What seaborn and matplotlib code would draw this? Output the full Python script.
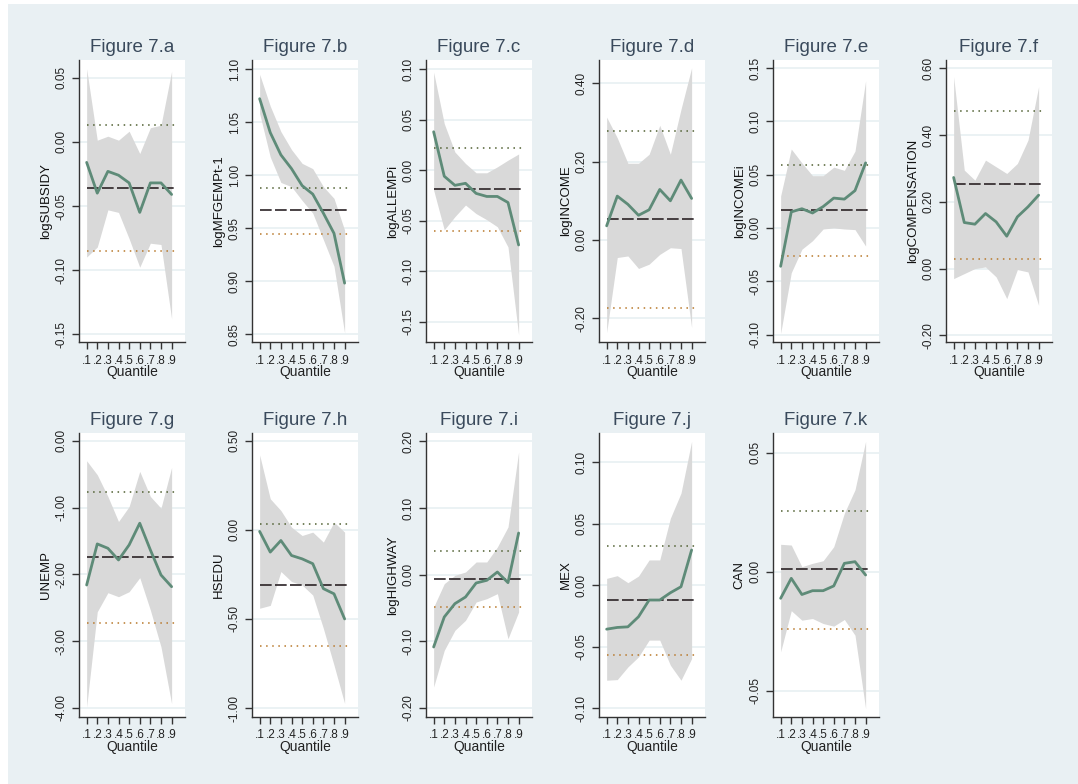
import numpy as np
import pandas as pd
import matplotlib
matplotlib.use("Agg")
import matplotlib.pyplot as plt
import seaborn as sns

sns.set_theme(style="white")
plt.rcParams['font.family'] = ['Liberation Sans', 'DejaVu Sans']

# ---------------- data ----------------
quantiles = [0.1, 0.2, 0.3, 0.4, 0.5, 0.6, 0.7, 0.8, 0.9]
xtick_labels = [".1", ".2", ".3", ".4", ".5", ".6", ".7", ".8", ".9"]

titles = ["Figure 7.a", "Figure 7.b", "Figure 7.c", "Figure 7.d", "Figure 7.e", "Figure 7.f",
          "Figure 7.g", "Figure 7.h", "Figure 7.i", "Figure 7.j", "Figure 7.k"]
ylabels = ["logSUBSIDY", "logMFGEMPt-1", "logALLEMPi", "logINCOME", "logINCOMEi", "logCOMPENSATION",
           "UNEMP", "HSEDU", "logHIGHWAY", "MEX", "CAN"]

# quantile estimates
a_coef = [-0.016, -0.040, -0.023, -0.026, -0.032, -0.055, -0.032, -0.032, -0.041]
b_coef = [1.072, 1.040, 1.019, 1.006, 0.990, 0.982, 0.964, 0.945, 0.898]
c_coef = [0.038, -0.006, -0.015, -0.013, -0.023, -0.026, -0.026, -0.032, -0.074]
d_coef = [0.036, 0.112, 0.091, 0.063, 0.077, 0.129, 0.100, 0.153, 0.106]
e_coef = [-0.036, 0.015, 0.018, 0.014, 0.020, 0.028, 0.027, 0.035, 0.061]
f_coef = [0.273, 0.138, 0.133, 0.165, 0.140, 0.097, 0.155, 0.185, 0.220]
g_coef = [-2.16, -1.545, -1.61, -1.785, -1.56, -1.235, -1.635, -2.01, -2.185]
h_coef = [-0.009, -0.125, -0.060, -0.144, -0.163, -0.190, -0.330, -0.359, -0.500]
i_coef = [-0.1085, -0.0635, -0.0435, -0.0335, -0.0125, -0.0085, 0.004, -0.012, 0.0625]
j_coef = [-0.0359, -0.0345, -0.034, -0.0258, -0.0122, -0.0122, -0.0063, -0.0014, 0.0285]
k_coef = [-0.0112, -0.0028, -0.0096, -0.008, -0.008, -0.006, 0.0035, 0.0042, -0.0014]

# upper confidence band
a_hi = [0.057, 0.0013, 0.0044, 0.0013, 0.0083, -0.0091, 0.011, 0.013, 0.055]
b_hi = [1.095, 1.065, 1.041, 1.024, 1.011, 1.006, 0.989, 0.978, 0.948]
c_hi = [0.097, 0.046, 0.018, 0.0066, -0.0026, -0.0026, 0.0033, 0.0099, 0.016]
d_hi = [0.314, 0.261, 0.196, 0.196, 0.219, 0.293, 0.219, 0.334, 0.440]
e_hi = [0.030, 0.074, 0.061, 0.049, 0.049, 0.057, 0.054, 0.072, 0.138]
f_hi = [0.575, 0.295, 0.265, 0.325, 0.305, 0.285, 0.315, 0.385, 0.545]
g_hi = [-0.30, -0.51, -0.835, -1.21, -0.985, -0.46, -0.835, -1.01, -0.40]
h_hi = [0.420, 0.174, 0.108, 0.015, -0.032, -0.013, -0.069, 0.043, -0.013]
i_hi = [-0.0485, -0.0135, -0.001, 0.004, 0.019, 0.019, 0.0415, 0.0715, 0.184]
j_hi = [0.0054, 0.0076, 0.0019, 0.0073, 0.0204, 0.0204, 0.0543, 0.0747, 0.1168]
k_hi = [0.0115, 0.0112, 0.0021, 0.0035, 0.0046, 0.0105, 0.0246, 0.0344, 0.0548]

# lower confidence band
a_lo = [-0.0898, -0.082, -0.053, -0.055, -0.0755, -0.0977, -0.079, -0.080, -0.138]
b_lo = [1.058, 1.017, 0.993, 0.989, 0.976, 0.964, 0.939, 0.914, 0.851]
c_lo = [-0.0197, -0.059, -0.046, -0.0345, -0.043, -0.049, -0.056, -0.076, -0.163]
d_lo = [-0.237, -0.045, -0.041, -0.073, -0.062, -0.037, -0.020, -0.022, -0.224]
e_lo = [-0.099, -0.042, -0.020, -0.012, -0.001, 0.000, -0.001, -0.0016, -0.017]
f_lo = [-0.030, -0.015, 0.000, 0.005, -0.025, -0.090, -0.003, -0.010, -0.110]
g_lo = [-3.985, -2.56, -2.275, -2.335, -2.26, -2.05, -2.535, -3.085, -3.935]
h_lo = [-0.440, -0.424, -0.234, -0.290, -0.310, -0.366, -0.553, -0.759, -0.974]
i_lo = [-0.1685, -0.1135, -0.0835, -0.0685, -0.041, -0.036, -0.0285, -0.096, -0.056]
j_lo = [-0.0774, -0.0769, -0.0666, -0.0584, -0.0448, -0.0448, -0.0652, -0.0774, -0.0598]
k_lo = [-0.0337, -0.0164, -0.0204, -0.0197, -0.0218, -0.0229, -0.0201, -0.0267, -0.0576]

# OLS estimate with its confidence interval: [estimate, upper, lower]
a_ols = [-0.036, 0.013, -0.085]
b_ols = [0.967, 0.988, 0.944]
c_ols = [-0.019, 0.022, -0.060]
d_ols = [0.053, 0.278, -0.173]
e_ols = [0.0166, 0.059, -0.026]
f_ols = [0.252, 0.473, 0.030]
g_ols = [-1.735, -0.775, -2.735]
h_ols = [-0.308, 0.034, -0.652]
i_ols = [-0.006, 0.036, -0.0485]
j_ols = [-0.0122, 0.0318, -0.0565]
k_ols = [0.001, 0.0257, -0.0242]

# y ticks
a_yt = [0.05, 0.00, -0.05, -0.10, -0.15]
b_yt = [1.10, 1.05, 1.00, 0.95, 0.90, 0.85]
c_yt = [0.10, 0.05, 0.00, -0.05, -0.10, -0.15]
d_yt = [0.40, 0.20, 0.00, -0.20]
e_yt = [0.15, 0.10, 0.05, 0.00, -0.05, -0.10]
f_yt = [0.60, 0.40, 0.20, 0.00, -0.20]
g_yt = [0.00, -1.00, -2.00, -3.00, -4.00]
h_yt = [0.50, 0.00, -0.50, -1.00]
i_yt = [0.20, 0.10, 0.00, -0.10, -0.20]
j_yt = [0.10, 0.05, 0.00, -0.05, -0.10]
k_yt = [0.05, 0.00, -0.05]

coefs = [a_coef, b_coef, c_coef, d_coef, e_coef, f_coef, g_coef, h_coef, i_coef, j_coef, k_coef]
his = [a_hi, b_hi, c_hi, d_hi, e_hi, f_hi, g_hi, h_hi, i_hi, j_hi, k_hi]
los = [a_lo, b_lo, c_lo, d_lo, e_lo, f_lo, g_lo, h_lo, i_lo, j_lo, k_lo]
olss = [a_ols, b_ols, c_ols, d_ols, e_ols, f_ols, g_ols, h_ols, i_ols, j_ols, k_ols]
yticks = [a_yt, b_yt, c_yt, d_yt, e_yt, f_yt, g_yt, h_yt, i_yt, j_yt, k_yt]

# ---------------- layout (pixels) ----------------
W, H = 1078, 784
ylims = [(-0.156, 0.0638), (0.8425, 1.1085), (-0.170, 0.109), (-0.261, 0.46),
         (-0.107, 0.1575), (-0.22, 0.625), (-4.135, 0.115), (-1.05, 0.543),
         (-0.2135, 0.2125), (-0.1073, 0.1236), (-0.0611, 0.0583)]
col_left = [79, 252, 426, 599, 773, 946]
ax_w = 106
rows = [(60, 342), (433, 717)]

BG = '#e9f0f3'
LINE = '#5e8b78'
BAND = '#d9d9d9'
GRID = '#e8f0f2'
TITLE = '#3a4a5c'

fig = plt.figure(figsize=(W / 100, H / 100), dpi=100, facecolor='white')
fig.patches.append(plt.Rectangle((8 / W, 0), 1 - 8 / W, 1 - 4 / H, transform=fig.transFigure,
                                 facecolor=BG, edgecolor='none', zorder=-10))

for idx in range(11):
    r, c = divmod(idx, 6)
    top, bot = rows[r]
    left = col_left[c]
    ax = fig.add_axes([left / W, 1 - bot / H, ax_w / W, (bot - top) / H])
    ax.set_facecolor('white')

    df = pd.DataFrame({'q': quantiles, 'coef': coefs[idx], 'lo': los[idx], 'hi': his[idx]})
    ax.fill_between(df['q'], df['lo'], df['hi'], color=BAND, lw=0, zorder=1)

    est, up, low = olss[idx]
    ax.hlines(up, 0.1, 0.95, colors='#4f5f30', linestyles=(0, (1, 3)), lw=1.1, zorder=3)
    ax.hlines(low, 0.1, 0.95, colors='#b8782a', linestyles=(0, (1, 3)), lw=1.1, zorder=3)
    ax.hlines(est, 0.1, 0.95, colors='#2b2326', linestyles=(0, (7, 2)), lw=1.2, zorder=3)

    sns.lineplot(data=df, x='q', y='coef', ax=ax, color=LINE, lw=2, zorder=4)

    ax.set_xlim(0.028, 1.026)
    ax.set_ylim(*ylims[idx])
    ax.set_yticks(yticks[idx])
    ax.set_yticklabels([f"{v:.2f}" for v in yticks[idx]], rotation=90, va='center',
                       fontsize=8.5, color='#222222')
    ax.set_xticks(quantiles)
    ax.set_xticklabels(xtick_labels, fontsize=8.5, color='#222222')
    ax.grid(axis='y', color=GRID, lw=1.2, zorder=0)
    ax.grid(axis='x', visible=False)
    ax.set_axisbelow(True)

    for s in ['top', 'right']:
        ax.spines[s].set_visible(False)
    for s in ['left', 'bottom']:
        ax.spines[s].set_color('#333333')
        ax.spines[s].set_linewidth(1.0)
    ax.tick_params(axis='both', which='major', length=5, width=1, color='#333333',
                   direction='out', left=True, bottom=True)
    ax.tick_params(axis='y', pad=3)
    ax.tick_params(axis='x', pad=4)

    ax.set_xlabel("Quantile", fontsize=10, labelpad=-1, color='#222222')
    ax.set_ylabel(ylabels[idx], fontsize=9.5, labelpad=3, color='#111111')
    ax.set_title(titles[idx], fontsize=13.5, color=TITLE, pad=6)

fig.savefig("out.png", dpi=100, facecolor=fig.get_facecolor())
